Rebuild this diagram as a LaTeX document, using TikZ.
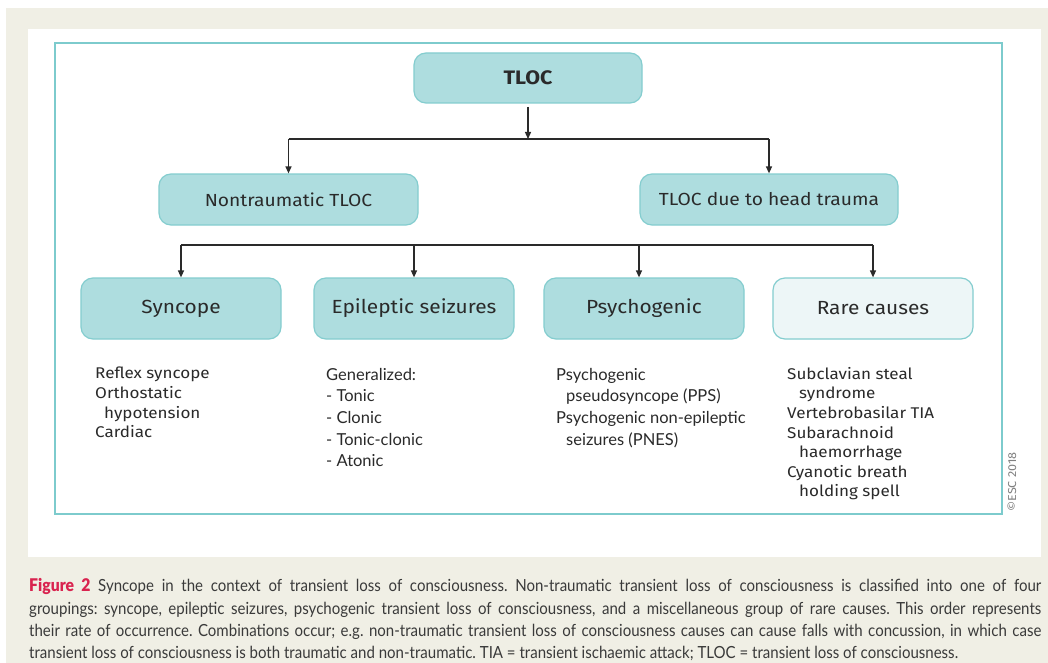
\documentclass[tikz,border=0pt]{standalone}
\usepackage{fontspec}
\setmainfont{Fira Sans}
\newfontfamily\dinfont[FakeStretch=1.1]{Fira Sans}
\newfontfamily\gillfont{Lato}
\newfontfamily\capfont[FakeStretch=0.9]{Lato}
\newfontfamily\capboldfont[FakeStretch=0.9]{Lato Black}
\usetikzlibrary{arrows.meta}
\frenchspacing
\definecolor{beige}{HTML}{F0EFE5}
\definecolor{frameteal}{HTML}{7DCBCD}
\definecolor{boxfill}{HTML}{AEDDDF}
\definecolor{boxline}{HTML}{84CDCF}
\definecolor{palefill}{HTML}{EDF6F7}
\definecolor{txt}{HTML}{2A2A2A}
\definecolor{capred}{HTML}{D9234F}
\definecolor{captxt}{HTML}{3A3A3A}
\tikzset{
  tealbox/.style={draw=boxline, line width=1.2pt, fill=boxfill, rounded corners=12pt, inner sep=0pt, text=txt, font=\dinfont\fontsize{17.5}{20}\selectfont},
  bigbox/.style={tealbox, minimum width=200pt, minimum height=61pt, font=\dinfont\fontsize{19}{22}\selectfont},
  conn/.style={draw=txt, line width=1.3pt, -{Triangle[length=7pt,width=6pt]}},
  plainline/.style={draw=txt, line width=1.3pt},
  listA/.style={anchor=north west, inner sep=0pt, align=left, text=txt, font=\dinfont\fontsize{15.5}{19.6}\selectfont},
  listB/.style={anchor=north west, inner sep=0pt, align=left, text=txt, font=\gillfont\fontsize{16.5}{21.6}\selectfont},
  capline/.style={anchor=base west, inner sep=0pt, text=captxt, font=\capfont\fontsize{16.7}{22}\selectfont}
}
\begin{document}
\begin{tikzpicture}[x=1pt,y=-1pt]
\useasboundingbox (0,0) rectangle (1048,663);
% backgrounds
\fill[beige] (6,8) rectangle (1048,663);
\fill[white] (28,29) rectangle (1041,557);
\draw[frameteal, line width=2pt] (55,43) rectangle (1002,514);
% top node
\node[tealbox, minimum width=228pt, minimum height=50pt, font=\dinfont\bfseries\fontsize{19.5}{22}\selectfont] (tloc) at (528,78) {TLOC};
% middle row
\node[tealbox, minimum width=259pt, minimum height=51pt] (nontr) at (288.5,199.5) {Nontraumatic TLOC};
\node[tealbox, minimum width=258pt, minimum height=51pt] (head) at (769,199.5) {TLOC due to head trauma};
% bottom row
\node[bigbox] (sync) at (181,308.5) {Syncope};
\node[bigbox] (epi) at (414,308.5) {Epileptic seizures};
\node[bigbox] (psy) at (644,308.5) {Psychogenic};
\node[bigbox, fill=palefill] (rare) at (873,308.5) {Rare causes};
% connectors
\coordinate (j1) at (528,139);
\coordinate (j2) at (288.5,245);
\draw[conn] (tloc.south |- 0,107) -- (j1);
\draw[plainline] (nontr.north |- j1) -- (head.north |- j1);
\draw[conn] (nontr.north |- j1) -- (nontr.north);
\draw[conn] (head.north |- j1) -- (head.north);
\draw[plainline] (sync.north |- j2) -- (rare.north |- j2);
\draw[conn] (sync.north |- j2) -- (sync.north);
\draw[conn] (epi.north |- j2) -- (epi.north);
\draw[conn] ([xshift=-5pt]psy.north |- j2) -- ([xshift=-5pt]psy.north);
\draw[conn] (rare.north |- j2) -- (rare.north);
% lists
\node[listA] (l1) at (95,367) {Reflex syncope\\Orthostatic\\\hspace{9pt}hypotension\\Cardiac};
\node[listB] (l2) at (326,368) {Generalized:\\- Tonic\\- Clonic\\- Tonic-clonic\\- Atonic};
\node[listB] (l3) at (556,368) {Psychogenic\\\hspace{10pt}pseudosyncope (PPS)\\Psychogenic non-epileptic\\\hspace{10pt}seizures (PNES)};
\node[listA] (l4) at (787,367) {Subclavian steal\\\hspace{12pt}syndrome\\Vertebrobasilar TIA\\Subarachnoid\\\hspace{12pt}haemorrhage\\Cyanotic breath\\\hspace{12pt}holding spell};
% copyright
\node[rotate=90, inner sep=0pt, text=gray, font=\dinfont\fontsize{11.5}{12}\selectfont] (esc) at (1012,482) {\textcopyright ESC 2018};
% caption
\node[capline] (c1) at (29,591) {\makebox[1012pt][s]{{\capboldfont\color{capred}\fontsize{17.5}{22}\selectfont Figure 2} Syncope in the context of transient loss of consciousness. Non-traumatic transient loss of consciousness is classified into one of four}};
\node[capline] (c2) at (29,614) {\makebox[1012pt][s]{groupings: syncope, epileptic seizures, psychogenic transient loss of consciousness, and a miscellaneous group of rare causes. This order represents}};
\node[capline] (c3) at (29,636) {\makebox[1012pt][s]{their rate of occurrence. Combinations occur; e.g. non-traumatic transient loss of consciousness causes can cause falls with concussion, in which case}};
\node[capline] (c4) at (29,658) {transient loss of consciousness is both traumatic and non-traumatic. TIA = transient ischaemic attack; TLOC = transient loss of consciousness.};
\end{tikzpicture}
\end{document}
